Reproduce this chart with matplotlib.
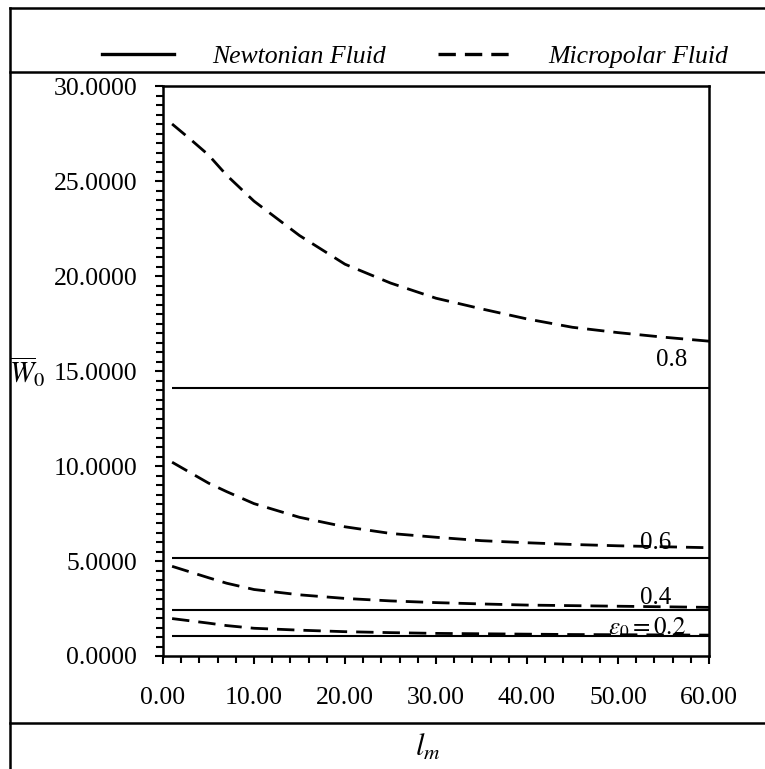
import matplotlib
matplotlib.use("Agg")
import matplotlib.pyplot as plt
from matplotlib.lines import Line2D
from matplotlib.ticker import MultipleLocator, FormatStrFormatter

plt.rcParams['font.family'] = ['Liberation Serif', 'DejaVu Serif']
plt.rcParams['mathtext.fontset'] = 'stix'
plt.rcParams['lines.scale_dashes'] = False

# ---- data ----
l_m = [1, 3, 5, 7, 10, 15, 20, 25, 30, 35, 40, 45, 50, 55, 60]
eps_labels = ['0.8', '0.6', '0.4', r'$\varepsilon_0 = 0.2$']
newtonian = [14.1, 5.14, 2.42, 1.03]
micro_08 = [28.0, 27.2, 26.37, 25.3, 23.94, 22.13, 20.62, 19.63, 18.83, 18.27, 17.74, 17.30, 17.02, 16.78, 16.57]
micro_06 = [10.2, 9.65, 9.1, 8.65, 8.02, 7.30, 6.80, 6.45, 6.25, 6.07, 5.96, 5.87, 5.80, 5.75, 5.70]
micro_04 = [4.72, 4.42, 4.12, 3.83, 3.50, 3.22, 3.03, 2.90, 2.81, 2.74, 2.68, 2.65, 2.62, 2.59, 2.56]
micro_02 = [1.97, 1.85, 1.73, 1.60, 1.46, 1.36, 1.28, 1.23, 1.19, 1.17, 1.15, 1.13, 1.12, 1.11, 1.10]
micropolar = [micro_08, micro_06, micro_04, micro_02]
label_pos = [(55.9, 15.58), (54.1, 5.95), (54.1, 3.05), (53.2, 1.47)]

W, H = 765, 769
fig = plt.figure(figsize=(W / 100, H / 100), dpi=100)
ax = fig.add_axes([163 / W, 1 - 656 / H, (709 - 163) / W, (656 - 86) / H])

dash = (12.5, 6.5)
for yn, ym, lab, (lx, ly) in zip(newtonian, micropolar, eps_labels, label_pos):
    ax.plot([l_m[0], l_m[-1]], [yn, yn], color='black', lw=1.5, solid_capstyle='butt')
    ax.plot(l_m, ym, color='black', lw=2.0, dashes=dash)
    ax.text(lx, ly, lab, fontsize=18, ha='center', va='center')

ax.set_xlim(0, 60)
ax.set_ylim(0, 30)
ax.xaxis.set_major_locator(MultipleLocator(10))
ax.xaxis.set_minor_locator(MultipleLocator(2))
ax.yaxis.set_major_locator(MultipleLocator(5))
ax.yaxis.set_minor_locator(MultipleLocator(0.5))
ax.xaxis.set_major_formatter(FormatStrFormatter('%.2f'))
ax.yaxis.set_major_formatter(FormatStrFormatter('%.4f'))
ax.tick_params(axis='both', which='both', direction='out', width=1.5, labelsize=18.5)
ax.tick_params(axis='both', which='major', length=5.5)
ax.tick_params(axis='both', which='minor', length=5)
ax.tick_params(axis='y', which='major', pad=13)
ax.tick_params(axis='x', which='major', pad=17)
for s in ax.spines.values():
    s.set_linewidth(1.8)

ax.set_ylabel(r'$\overline{W}_0$', fontsize=21, rotation=0, ha='center', va='center')
ax.yaxis.set_label_coords(-0.249, 0.498)
ax.set_xlabel(r'$\mathit{l}_{\mathit{m}}$', fontsize=22, va='center')
ax.xaxis.set_label_coords(0.485, -0.161)

h1 = Line2D([], [], color='black', lw=2.4)
h2 = Line2D([], [], color='black', lw=2.4, dashes=dash)
fig.legend([h1, h2], ['Newtonian Fluid', 'Micropolar Fluid'], loc='center',
           bbox_to_anchor=(415 / W, 1 - 57 / H), ncol=2, frameon=False,
           prop={'family': 'Liberation Serif', 'style': 'italic', 'size': 18.5},
           handlelength=2.8, handletextpad=1.5, columnspacing=2.0)

# outer table frame
lw_b = 1.8
fig.add_artist(Line2D([10 / W, 10 / W], [0, 1 - 8 / H], transform=fig.transFigure, color='black', lw=lw_b))
for yy in (8, 72, 723):
    fig.add_artist(Line2D([10 / W, 1], [1 - yy / H, 1 - yy / H], transform=fig.transFigure, color='black', lw=lw_b))

fig.savefig('out.png', dpi=100)
